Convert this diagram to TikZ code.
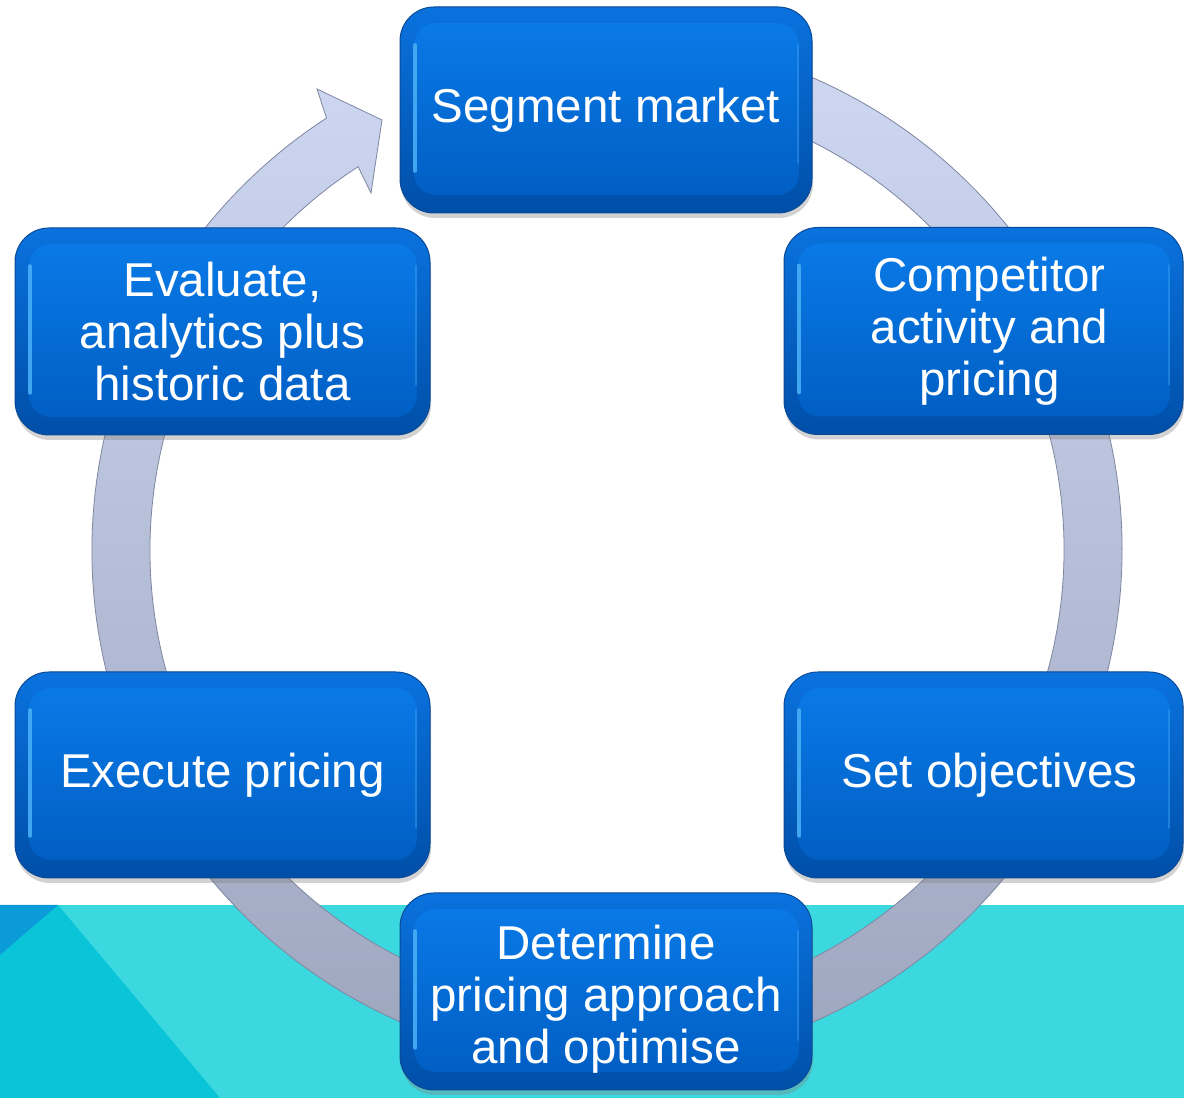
\documentclass[tikz,border=0pt]{standalone}
\usepackage{fontspec}
\setmainfont{Liberation Sans}
\usetikzlibrary{calc,shadows}

\definecolor{rimtop}{HTML}{0A72DE}
\definecolor{rimbot}{HTML}{004FA8}
\definecolor{facetop}{HTML}{0A7CEA}
\definecolor{facebot}{HTML}{005CC0}
\definecolor{boxedge}{HTML}{0A4A96}
\definecolor{boxlight}{HTML}{4CB2F8}
\definecolor{ringtop}{HTML}{CFD8F2}
\definecolor{ringbot}{HTML}{9CA4BC}
\definecolor{ringline}{HTML}{7E86A2}
\definecolor{bandmain}{HTML}{3BD9DF}
\definecolor{banddark}{HTML}{0AC4D8}
\definecolor{bandblue}{HTML}{0A9BD8}

\tikzset{
  stage/.style={
    rectangle, rounded corners=34pt, minimum width=412pt, minimum height=206pt,
    inner sep=0pt, align=center, text=white,
    font=\fontsize{47.5}{52}\selectfont,
    top color=rimtop, bottom color=rimbot, draw=boxedge, line width=1pt,
    drop shadow={shadow xshift=1pt, shadow yshift=-5pt, opacity=0.35},
    path picture={
      % raised face inside the bevelled rim
      \shade[top color=facetop, bottom color=facebot, rounded corners=22pt]
        ($(path picture bounding box.south west)+(14pt,18pt)$) rectangle
        ($(path picture bounding box.north east)+(-13pt,-16pt)$);
      % light catching the left bevel
      \draw[boxlight, line width=3.5pt, opacity=0.85, line cap=round]
        ($(path picture bounding box.south west)+(15pt,42pt)$) --
        ($(path picture bounding box.north west)+(15pt,-38pt)$);
      \draw[boxlight, line width=2pt, opacity=0.35, line cap=round]
        ($(path picture bounding box.south east)+(-14pt,50pt)$) --
        ($(path picture bounding box.north east)+(-14pt,-38pt)$);
    }},
  cyclering/.style={top color=ringtop, bottom color=ringbot, draw=ringline, line width=0.8pt},
}

\begin{document}
\begin{tikzpicture}[x=1pt, y=1pt]
  \useasboundingbox (0,0) rectangle (1184,1098);
  \fill[white] (0,0) rectangle (1184,1098);

  % coloured band along the bottom
  \fill[bandmain] (0,0) rectangle (1184,193);
  \fill[banddark] (58,193) -- (220,0) -- (0,0) -- (0,143) -- cycle;
  \fill[bandblue] (0,193) -- (58,193) -- (0,143) -- cycle;

  % circular arrow running clockwise behind the stages
  \coordinate (c) at (607,548);
  \coordinate (barbout) at (317,1009);
  \coordinate (tip) at (382,978);
  \coordinate (barbin) at (371,905);
  \path[cyclering]
    ($(c)+(80:515pt)$) arc[start angle=80, end angle=-237, radius=515pt]
    -- (barbout) -- (tip) -- (barbin)
    -- ($(c)+(-237:457pt)$) arc[start angle=-237, end angle=80, radius=457pt]
    -- cycle;

  % stages of the cycle
  \node[stage] (seg) at (606,988) {Segment market};
  \node[stage, minimum width=399pt, minimum height=207pt] (comp) at (983.5,767)
    {\hspace*{12pt}Competitor\\\hspace*{12pt}activity and\\\hspace*{12pt}pricing};
  \node[stage, minimum width=399pt] (obj) at (983.5,323)
    {\hspace*{12pt}Set objectives};
  \node[stage, minimum height=197pt] (det) at (606,106.5)
    {\rule{0pt}{50pt}Determine\\pricing approach\\and optimise};
  \node[stage, minimum width=415pt] (exe) at (222.5,323) {Execute pricing};
  \node[stage, minimum width=415pt, minimum height=207pt] (eva) at (222.5,766.5)
    {Evaluate,\\analytics plus\\historic data};
\end{tikzpicture}
\end{document}
